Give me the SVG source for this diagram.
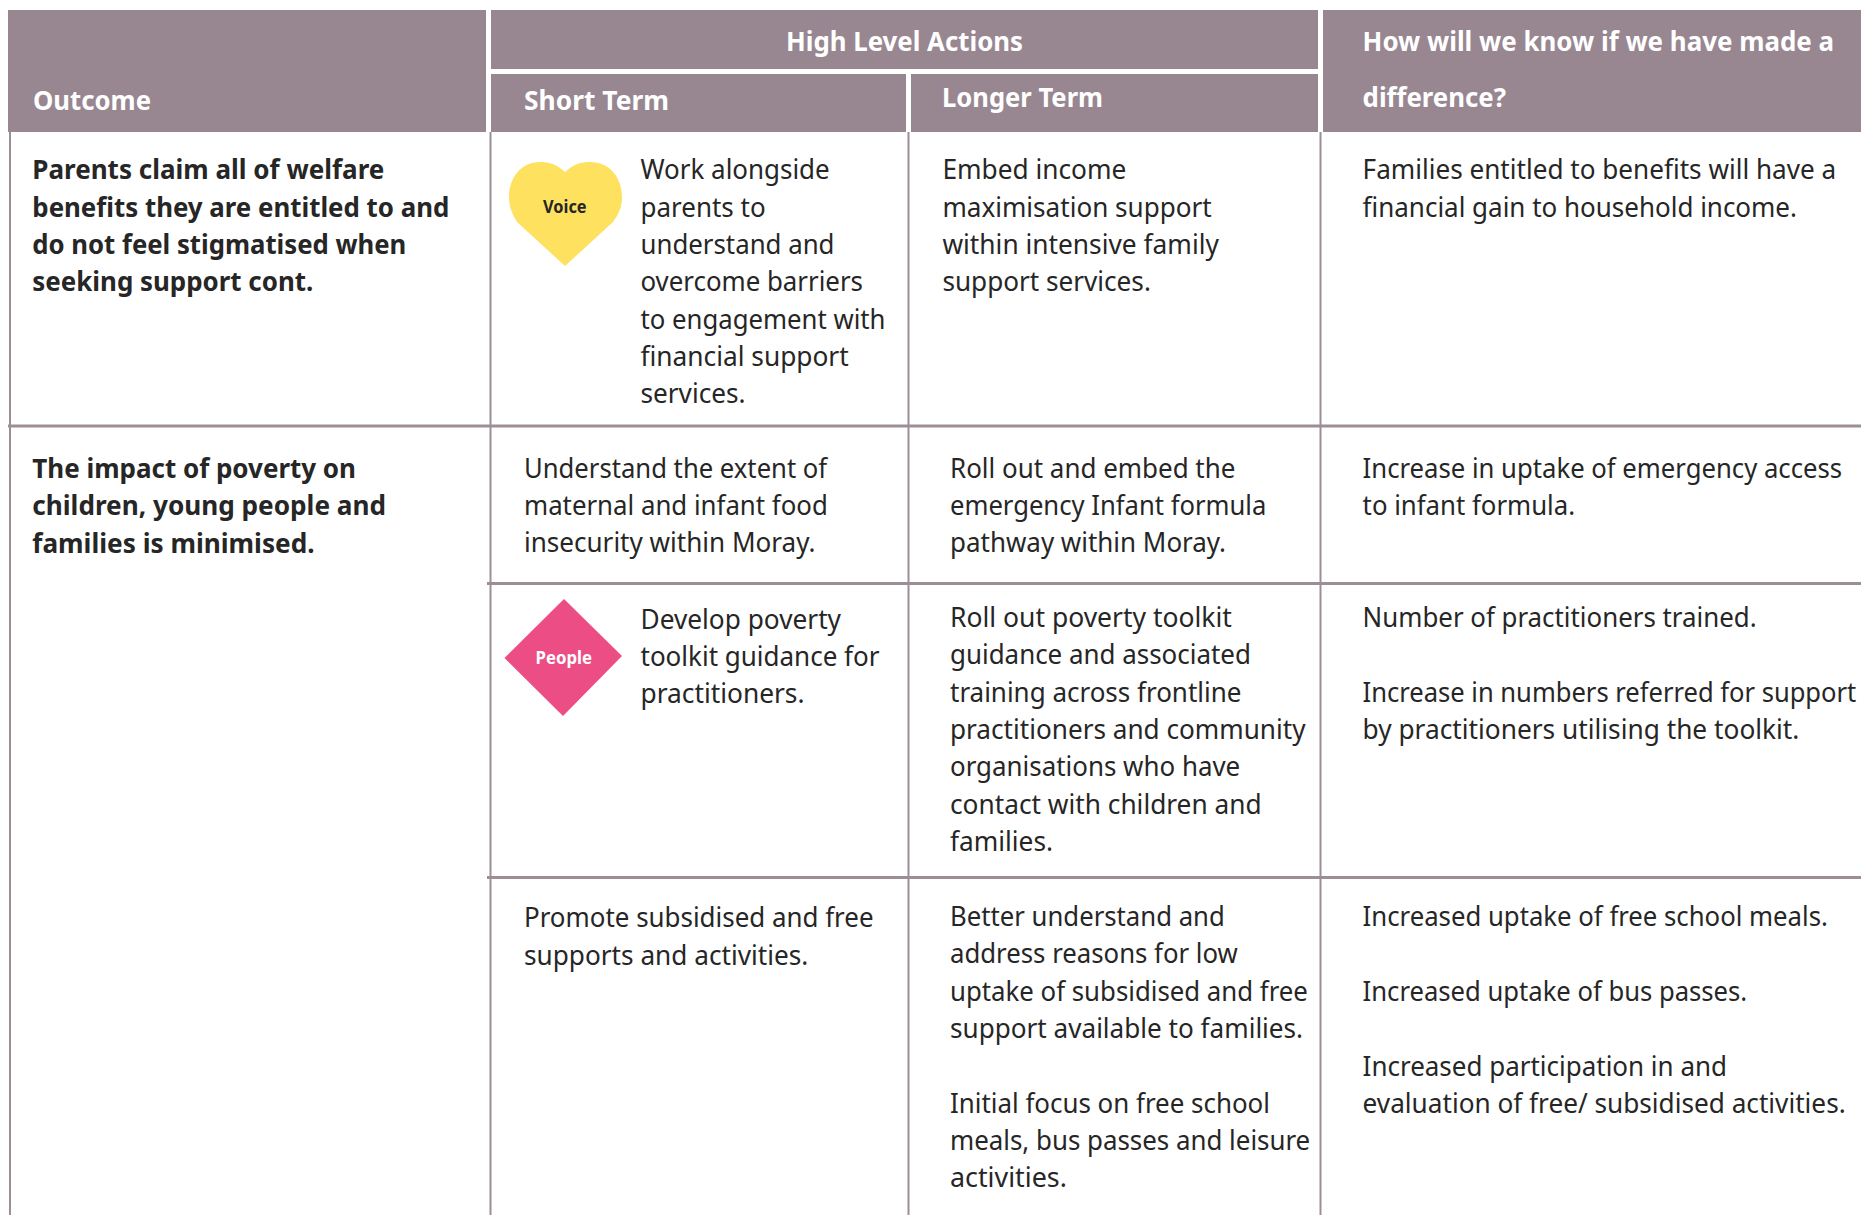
<svg xmlns="http://www.w3.org/2000/svg" width="1861" height="1215" viewBox="0 0 1861 1215">
<style>
text{font-family:"Noto Sans","Open Sans","Liberation Sans",sans-serif}
.t{font-size:26.5px;fill:#262626}
.b{font-size:26.5px;font-weight:700;fill:#262626}
.h{font-size:26px;font-weight:700;fill:#fff}
.hd{fill:#988791}
.g{stroke:#9c8d97;fill:none}
</style>
<rect width="1861" height="1215" fill="#fff"/>
<g id="header">
<rect class="hd" x="8" y="10" width="478" height="122"/>
<rect class="hd" x="491" y="10" width="827" height="59"/>
<rect class="hd" x="491" y="74" width="415" height="58"/>
<rect class="hd" x="911" y="74" width="407" height="58"/>
<rect class="hd" x="1323" y="10" width="538" height="122"/>
<text class="h" x="33" y="110" textLength="118" lengthAdjust="spacingAndGlyphs">Outcome</text>
<text class="h" x="786" y="51" textLength="237" lengthAdjust="spacingAndGlyphs">High Level Actions</text>
<text class="h" x="524" y="110" textLength="145" lengthAdjust="spacingAndGlyphs">Short Term</text>
<text class="h" x="942" y="107" textLength="161" lengthAdjust="spacingAndGlyphs">Longer Term</text>
<text class="h" x="1362.600" y="51" textLength="471.400" lengthAdjust="spacingAndGlyphs">How will we know if we have made a</text>
<text class="h" x="1362.600" y="107" textLength="143.400" lengthAdjust="spacingAndGlyphs">difference?</text>
</g>
<g id="grid">
<path class="g" stroke-width="2" d="M10 132V1215M490.500 132V1215M908.500 132V1215M1320.500 132V1215"/>
<path class="g" stroke-width="3" d="M8 426H1861M487 583.500H1861M487 877.500H1861"/>
</g>
<g id="voice-heart">
<path fill="#ffe160" d="M565 172C574 164 581 162 590 162C610 162 622 178 622 197C622 208 618 215 613 222L565 266L517 222C513 215 509 208 509 197C509 178 521 162 540 162C549 162 556 164 565 172Z"/>
<text x="543" y="213" font-size="17" font-weight="700" fill="#262626" textLength="43.600" lengthAdjust="spacingAndGlyphs">Voice</text>
</g>
<g id="people-diamond">
<polygon fill="#ec4d84" points="564,599 622,656 563,716 504.500,658"/>
<text x="535.500" y="664" font-size="17" font-weight="700" fill="#fff" textLength="56.500" lengthAdjust="spacingAndGlyphs">People</text>
</g>
<g id="row1">
<text class="b" x="32.300" y="179" textLength="352" lengthAdjust="spacingAndGlyphs">Parents claim all of welfare</text>
<text class="b" x="32.300" y="217" textLength="417" lengthAdjust="spacingAndGlyphs">benefits they are entitled to and</text>
<text class="b" x="32.300" y="253.600" textLength="374" lengthAdjust="spacingAndGlyphs">do not feel stigmatised when</text>
<text class="b" x="32.300" y="291" textLength="281" lengthAdjust="spacingAndGlyphs">seeking support cont.</text>
<text class="t" x="640.500" y="179" textLength="189.200" lengthAdjust="spacingAndGlyphs">Work alongside</text>
<text class="t" x="640.500" y="217" textLength="125.100" lengthAdjust="spacingAndGlyphs">parents to</text>
<text class="t" x="640.500" y="253.600" textLength="194" lengthAdjust="spacingAndGlyphs">understand and</text>
<text class="t" x="640.500" y="291" textLength="222.500" lengthAdjust="spacingAndGlyphs">overcome barriers</text>
<text class="t" x="640.500" y="329" textLength="245" lengthAdjust="spacingAndGlyphs">to engagement with</text>
<text class="t" x="640.500" y="365.600" textLength="208.200" lengthAdjust="spacingAndGlyphs">financial support</text>
<text class="t" x="640.500" y="403" textLength="105" lengthAdjust="spacingAndGlyphs">services.</text>
<text class="t" x="942.400" y="179" textLength="184" lengthAdjust="spacingAndGlyphs">Embed income</text>
<text class="t" x="942.400" y="217" textLength="269.400" lengthAdjust="spacingAndGlyphs">maximisation support</text>
<text class="t" x="942.400" y="253.600" textLength="276.500" lengthAdjust="spacingAndGlyphs">within intensive family</text>
<text class="t" x="942.400" y="291" textLength="208.500" lengthAdjust="spacingAndGlyphs">support services.</text>
<text class="t" x="1362.600" y="179" textLength="473.600" lengthAdjust="spacingAndGlyphs">Families entitled to benefits will have a</text>
<text class="t" x="1362.600" y="217" textLength="434.400" lengthAdjust="spacingAndGlyphs">financial gain to household income.</text>
</g>
<g id="row2">
<text class="b" x="32.300" y="478" textLength="323.700" lengthAdjust="spacingAndGlyphs">The impact of poverty on</text>
<text class="b" x="32.300" y="515" textLength="353.700" lengthAdjust="spacingAndGlyphs">children, young people and</text>
<text class="b" x="32.300" y="553" textLength="282.300" lengthAdjust="spacingAndGlyphs">families is minimised.</text>
<text class="t" x="524" y="478" textLength="303.200" lengthAdjust="spacingAndGlyphs">Understand the extent of</text>
<text class="t" x="524" y="515" textLength="303.800" lengthAdjust="spacingAndGlyphs">maternal and infant food</text>
<text class="t" x="524" y="552" textLength="291.400" lengthAdjust="spacingAndGlyphs">insecurity within Moray.</text>
<text class="t" x="950" y="478" textLength="285.400" lengthAdjust="spacingAndGlyphs">Roll out and embed the</text>
<text class="t" x="950" y="515" textLength="316.300" lengthAdjust="spacingAndGlyphs">emergency Infant formula</text>
<text class="t" x="950" y="552" textLength="276" lengthAdjust="spacingAndGlyphs">pathway within Moray.</text>
<text class="t" x="1362.600" y="478" textLength="479.500" lengthAdjust="spacingAndGlyphs">Increase in uptake of emergency access</text>
<text class="t" x="1362.600" y="515" textLength="212.500" lengthAdjust="spacingAndGlyphs">to infant formula.</text>
</g>
<g id="row3">
<text class="t" x="640.500" y="629" textLength="200.500" lengthAdjust="spacingAndGlyphs">Develop poverty</text>
<text class="t" x="640.500" y="666" textLength="239" lengthAdjust="spacingAndGlyphs">toolkit guidance for</text>
<text class="t" x="640.500" y="703" textLength="164" lengthAdjust="spacingAndGlyphs">practitioners.</text>
<text class="t" x="950" y="627" textLength="281.900" lengthAdjust="spacingAndGlyphs">Roll out poverty toolkit</text>
<text class="t" x="950" y="664.400" textLength="300.900" lengthAdjust="spacingAndGlyphs">guidance and associated</text>
<text class="t" x="950" y="701.700" textLength="291.400" lengthAdjust="spacingAndGlyphs">training across frontline</text>
<text class="t" x="950" y="739" textLength="355.500" lengthAdjust="spacingAndGlyphs">practitioners and community</text>
<text class="t" x="950" y="776.400" textLength="290.200" lengthAdjust="spacingAndGlyphs">organisations who have</text>
<text class="t" x="950" y="813.700" textLength="311.600" lengthAdjust="spacingAndGlyphs">contact with children and</text>
<text class="t" x="950" y="851" textLength="103" lengthAdjust="spacingAndGlyphs">families.</text>
<text class="t" x="1362.600" y="627" textLength="394" lengthAdjust="spacingAndGlyphs">Number of practitioners trained.</text>
<text class="t" x="1362.600" y="702" textLength="493.700" lengthAdjust="spacingAndGlyphs">Increase in numbers referred for support</text>
<text class="t" x="1362.600" y="739" textLength="436.800" lengthAdjust="spacingAndGlyphs">by practitioners utilising the toolkit.</text>
</g>
<g id="row4">
<text class="t" x="524" y="927" textLength="349.500" lengthAdjust="spacingAndGlyphs">Promote subsidised and free</text>
<text class="t" x="524" y="965" textLength="284.300" lengthAdjust="spacingAndGlyphs">supports and activities.</text>
<text class="t" x="950" y="926" textLength="274.800" lengthAdjust="spacingAndGlyphs">Better understand and</text>
<text class="t" x="950" y="963" textLength="287.800" lengthAdjust="spacingAndGlyphs">address reasons for low</text>
<text class="t" x="950" y="1000.500" textLength="357.900" lengthAdjust="spacingAndGlyphs">uptake of subsidised and free</text>
<text class="t" x="950" y="1038" textLength="353.100" lengthAdjust="spacingAndGlyphs">support available to families.</text>
<text class="t" x="950" y="1113" textLength="319.900" lengthAdjust="spacingAndGlyphs">Initial focus on free school</text>
<text class="t" x="950" y="1150" textLength="360.200" lengthAdjust="spacingAndGlyphs">meals, bus passes and leisure</text>
<text class="t" x="950" y="1187" textLength="116.900" lengthAdjust="spacingAndGlyphs">activities.</text>
<text class="t" x="1362.600" y="926" textLength="465.300" lengthAdjust="spacingAndGlyphs">Increased uptake of free school meals.</text>
<text class="t" x="1362.600" y="1000.500" textLength="384.600" lengthAdjust="spacingAndGlyphs">Increased uptake of bus passes.</text>
<text class="t" x="1362.600" y="1076" textLength="364.400" lengthAdjust="spacingAndGlyphs">Increased participation in and</text>
<text class="t" x="1362.600" y="1113" textLength="483.100" lengthAdjust="spacingAndGlyphs">evaluation of free/ subsidised activities.</text>
</g>
</svg>
